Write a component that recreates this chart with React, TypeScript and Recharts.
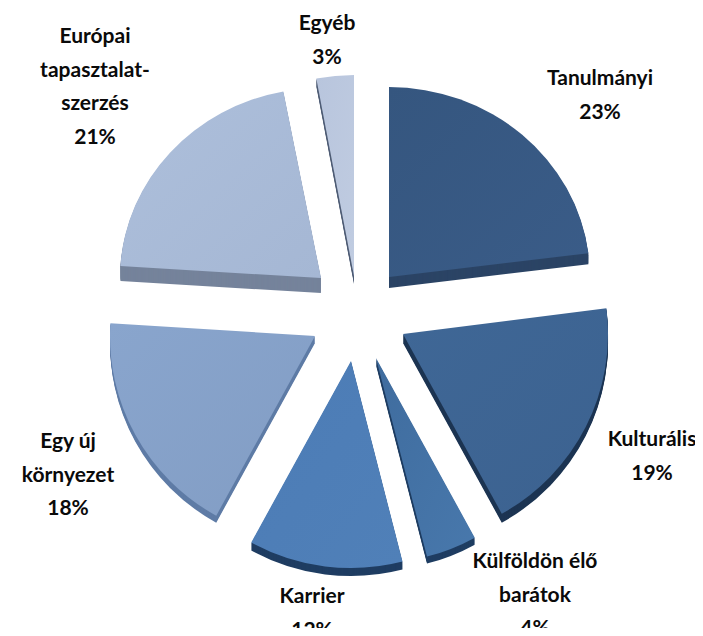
import { Pie, PieChart, Sector } from "recharts";

const categories = ["Tanulmányi", "Kulturális", "Külföldön élő barátok", "Karrier", "Egy új környezet", "Európai tapasztalatszerzés", "Egyéb"];
const shares = [23, 19, 4, 12, 18, 21, 3];

// how the labels wrap in the picture
const labelLines = [
  ["Tanulmányi", "23%"],
  ["Kulturális", "19%"],
  ["Külföldön élő", "barátok", "4%"],
  ["Karrier", "12%"],
  ["Egy új", "környezet", "18%"],
  ["Európai", "tapasztalat-", "szerzés", "21%"],
  ["Egyéb", "3%"],
];

const data = categories.map((name, i) => ({ name, value: shares[i] }));

const CX = 355;
const CY = 312;
const RADIUS = 201;

// per-slice look of the exploded 3D pie, same order as categories
const explode = [[34, -35], [48, 22], [21, 46], [-4, 49], [-40, 24], [-34, -34], [-1, -36]];
const flatten = [0.945, 1, 1, 1, 1, 0.945, 1];
const grow = [1, 1.02, 1.02, 1.03, 1.02, 1, 1];
const depth = [11, 9, 7, 8, 7, 15, 8];
const topColors = [
  ["#35567f", "#3a5c88"],
  ["#3f6796", "#3c6290"],
  ["#3f6c9e", "#4878ac"],
  ["#4c7cb6", "#5080b8"],
  ["#89a5cd", "#829dc4"],
  ["#adbfdb", "#a5b7d4"],
  ["#b8c5dd", "#c0cce1"],
];
const wallColors = ["#2b4465", "#1d3553", "#1f3d62", "#1f3d62", "#5f7ca6", "#75839b", "#4f5d75"];
const labelCenters = [[600, 80], [652, 441], [535, 563], [312, 598], [68, 443], [95, 38], [327, 25]];
const LINE_GAP = 33.5;

function ExplodedSlice(props: any) {
  const { index, startAngle, endAngle, outerRadius } = props;
  const [dx, dy] = explode[index];
  const r = outerRadius * grow[index];
  const walls = [];
  for (let d = depth[index]; d > 0; d--) {
    walls.push(
      <Sector key={d} cx={0} cy={d / flatten[index]} innerRadius={0} outerRadius={r} startAngle={startAngle} endAngle={endAngle} fill={wallColors[index]} stroke="none" />
    );
  }
  return (
    <g transform={`translate(${CX + dx} ${CY + dy}) scale(1 ${flatten[index]})`}>
      <defs>
        <linearGradient id={`top-${index}`} x1="0" y1="0" x2="1" y2="1">
          <stop offset="0%" stopColor={topColors[index][0]} />
          <stop offset="100%" stopColor={topColors[index][1]} />
        </linearGradient>
      </defs>
      {walls}
      <Sector cx={0} cy={0} innerRadius={0} outerRadius={r} startAngle={startAngle} endAngle={endAngle} fill={`url(#top-${index})`} stroke="none" />
    </g>
  );
}

function SliceLabel(props: any) {
  const { index } = props;
  const [x, y] = labelCenters[index];
  return (
    <text x={x} y={y} textAnchor="middle" dominantBaseline="middle" fontFamily="Lato, sans-serif" fontWeight={700} fontSize={21} fill="#0a0a0a">
      {labelLines[index].map((line, i) => (
        <tspan key={line} x={x} y={y + i * LINE_GAP}>{line}</tspan>
      ))}
    </text>
  );
}

export default function App() {
  return (
    <div style={{ width: 703, height: 636, margin: -8, overflow: "hidden", background: "#fff" }}>
      <PieChart width={703} height={636} margin={{ top: 0, right: 0, bottom: 0, left: 0 }}>
        <Pie
          data={data}
          dataKey="value"
          nameKey="name"
          cx={CX}
          cy={CY}
          innerRadius={0}
          outerRadius={RADIUS}
          startAngle={90}
          endAngle={-270}
          paddingAngle={0}
          stroke="none"
          shape={ExplodedSlice}
          label={SliceLabel}
          labelLine={false}
          isAnimationActive={false}
        />
      </PieChart>
    </div>
  );
}
